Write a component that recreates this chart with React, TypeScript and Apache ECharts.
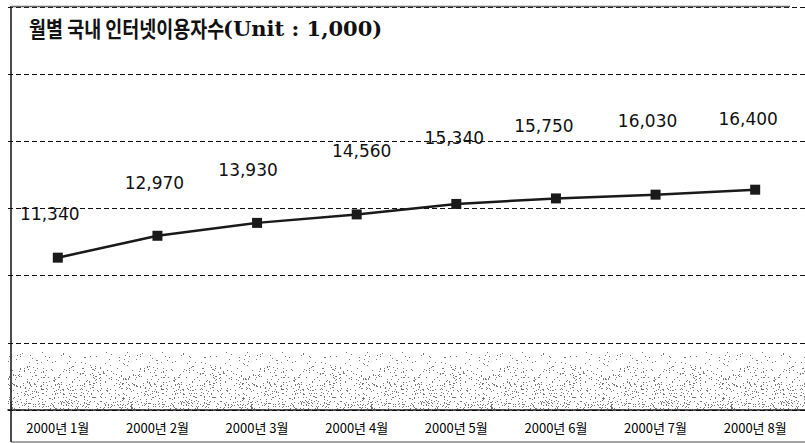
import React, { useEffect, useRef } from 'react';
import * as echarts from 'echarts';

const categories = ['2000년 1월', '2000년 2월', '2000년 3월', '2000년 4월', '2000년 5월', '2000년 6월', '2000년 7월', '2000년 8월'];
const users = [11340, 12970, 13930, 14560, 15340, 15750, 16030, 16400];
const yMin = 0;
const yMax = 30000;
const yInterval = 5000;
const titleKo = '월별 국내 인터넷이용자수';
const titleUnit = '(Unit : 1,000)';
// label placement (style): offset of each value label from its point
const labelOffsets = [[-8, -44], [-3, -53], [-9, -53], [5, -63], [-2, -66], [-12, -72], [-8, -74], [-7, -71]];

function hash(x: number, y: number) {
  let h = Math.imul(x, 374761393) + Math.imul(y, 668265263);
  h = Math.imul(h ^ (h >>> 13), 1274126177);
  h ^= h >>> 16;
  return (h >>> 0) / 4294967296;
}

function makeStipple() {
  const c = document.createElement('canvas');
  c.width = 120;
  c.height = 443;
  const ctx = c.getContext('2d')!;
  ctx.fillStyle = '#7a7a7a';
  for (let y = 352; y < 410; y++) {
    const t = (y - 352) / 57;
    const p = 0.015 + 0.13 * t;
    for (let x = 0; x < 120; x++) {
      if (hash(x, y) < p) ctx.fillRect(x, y, 1, 1);
    }
  }
  return c;
}

export default function App() {
  const ref = useRef<HTMLDivElement>(null);
  useEffect(() => {
    if (!ref.current) return;
    const chart = echarts.init(ref.current, null, { renderer: 'svg' });
    const stipple = makeStipple();
    const fmt = (v: number) => v.toLocaleString('en-US');
    chart.setOption({
      animation: false,
      backgroundColor: '#ffffff',
      grid: { left: 8, top: 7, width: 799, height: 403, containLabel: false },
      xAxis: {
        type: 'category',
        data: categories,
        boundaryGap: true,
        axisLine: { show: true, lineStyle: { color: '#111', width: 1.5 } },
        axisTick: { show: false },
        axisLabel: { color: '#000', fontSize: 13, fontFamily: '"Noto Sans CJK KR", sans-serif', margin: 11 },
        splitLine: { show: false },
      },
      yAxis: {
        type: 'value',
        min: yMin,
        max: yMax,
        interval: yInterval,
        axisLine: { show: false },
        axisTick: { show: false },
        axisLabel: { show: false },
        splitLine: { show: true, lineStyle: { color: '#111', width: 1.2, type: [5, 3] } },
      },
      series: [
        {
          type: 'line',
          data: users.map((v, i) => ({
            value: v,
            label: { offset: labelOffsets[i] },
          })),
          symbol: 'rect',
          symbolSize: 10,
          lineStyle: { color: '#1a1a1a', width: 2.5 },
          itemStyle: { color: '#1a1a1a' },
          label: {
            show: true,
            position: 'inside',
            formatter: (p: any) => fmt(p.value),
            color: '#111',
            fontSize: 17,
            fontFamily: '"DejaVu Sans", sans-serif',
          },
          markArea: {
            silent: true,
            itemStyle: { color: { image: stipple, repeat: 'repeat' } as any },
            data: [[{ yAxis: 0 }, { yAxis: 5000 }]],
          },
          z: 5,
        },
      ],
      graphic: [
        { type: 'line', z: 100, shape: { x1: 11, y1: 6, x2: 11, y2: 442 }, style: { stroke: '#111', lineWidth: 1.5 } },
        { type: 'line', z: 100, shape: { x1: 11, y1: 6.5, x2: 790, y2: 6.5 }, style: { stroke: '#666', lineWidth: 1.5 } },
        { type: 'line', z: 100, shape: { x1: 11, y1: 442, x2: 805, y2: 442 }, style: { stroke: '#444', lineWidth: 1 } },
        {
          type: 'text', z: 100, x: 29, y: 27, scaleX: 0.84,
          style: { text: titleKo, fill: '#111', font: 'bold 22px "Noto Sans CJK KR", sans-serif', textVerticalAlign: 'middle' },
        },
        {
          type: 'text', z: 100, x: 223, y: 28,
          style: { text: titleUnit, fill: '#111', font: 'bold 21px "DejaVu Serif", serif', textVerticalAlign: 'middle' },
        },
      ],
    });
    return () => chart.dispose();
  }, []);
  return <div ref={ref} style={{ position: 'fixed', left: 0, top: 0, width: 805, height: 443 }} />;
}
